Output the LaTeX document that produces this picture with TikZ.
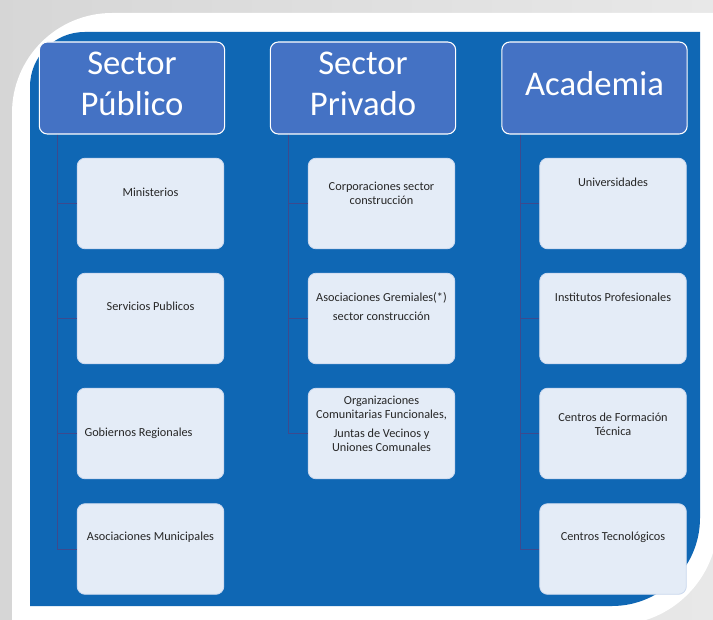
\documentclass[tikz,border=0pt]{standalone}
\usepackage{fontspec}
\setmainfont{Carlito}
\definecolor{fondo}{HTML}{0F67B4}
\definecolor{cabeza}{HTML}{4472C4}
\definecolor{caja}{HTML}{E4ECF7}
\definecolor{borde}{HTML}{CAD8EE}
\definecolor{linea}{HTML}{3D4A8E}
\definecolor{texto}{HTML}{262626}

\begin{document}
\begin{tikzpicture}[x=0.75pt, y=-0.75pt,
    cabecera/.style={draw=white, line width=0.8pt, fill=cabeza, rounded corners=6pt, minimum width=139pt, minimum height=69pt},
    titulo/.style={inner sep=0pt, text=white, align=center, font=\fontsize{26}{30.5}\selectfont},
    cajita/.style={draw=borde, line width=0.6pt, fill=caja, rounded corners=6pt, minimum width=110pt, minimum height=68pt},
    rotulo/.style={inner sep=0pt, text=texto, align=center, font=\fontsize{9.2}{10.5}\selectfont},
    rama/.style={draw=linea, line width=0.5pt}]
    \useasboundingbox (0,0) rectangle (713,620);
    \shade[left color=black!16, right color=black!9] (0,0) rectangle (713,620);
    \fill[white] (12,625) [rounded corners=75pt] -- (12,13) [sharp corners] -- (718,13) [rounded corners=78pt] -- (718,625) [sharp corners] -- cycle;
    \fill[fondo] (30,606) [rounded corners=41pt] -- (30,32) [sharp corners] -- (700,32) [rounded corners=66pt] -- (700,606) [sharp corners] -- cycle;

    \node[cabecera] (pub) at (132,88) {};
    \node[cabecera] (pri) at (363,88) {};
    \node[cabecera] (aca) at (594.5,88) {};

    \node[cajita] (pub1) at (150.5,203.5) {};
    \node[cajita] (pub2) at (150.5,318.5) {};
    \node[cajita] (pub3) at (150.5,433.5) {};
    \node[cajita] (pub4) at (150.5,549) {};
    \node[cajita] (pri1) at (381.5,203.5) {};
    \node[cajita] (pri2) at (381.5,318.5) {};
    \node[cajita] (pri3) at (381.5,433.5) {};
    \node[cajita] (aca1) at (613,203.5) {};
    \node[cajita] (aca2) at (613,318.5) {};
    \node[cajita] (aca3) at (613,433.5) {};
    \node[cajita] (aca4) at (613,549) {};

    \coordinate (ejepub) at ([xshift=14pt]pub.south west);
    \coordinate (ejepri) at ([xshift=14pt]pri.south west);
    \coordinate (ejeaca) at ([xshift=14pt]aca.south west);
    \draw[rama] (ejepub) |- (pub1.west) (ejepub) |- (pub2.west) (ejepub) |- (pub3.west) (ejepub) |- (pub4.west);
    \draw[rama] (ejepri) |- (pri1.west) (ejepri) |- (pri2.west) (ejepri) |- (pri3.west);
    \draw[rama] (ejeaca) |- (aca1.west) (ejeaca) |- (aca2.west) (ejeaca) |- (aca3.west) (ejeaca) |- (aca4.west);

    \node[titulo] (tpub) at ([yshift=3pt]pub.center) {Sector\\Público};
    \node[titulo] (tpri) at ([yshift=3pt]pri.center) {Sector\\Privado};
    \node[titulo] (taca) at ([yshift=3pt]aca.center) {Academia};

    \node[rotulo] (tpub1) at ([yshift=8.6pt]pub1.center) {Ministerios};
    \node[rotulo] (tpub2) at ([yshift=9.4pt]pub2.center) {Servicios Publicos};
    \node[rotulo] (tpub3) at ([xshift=-9pt]pub3.center) {Gobiernos Regionales};
    \node[rotulo] (tpub4) at ([yshift=9pt]pub4.center) {Asociaciones Municipales};
    \node[rotulo] (tpri1) at ([yshift=7.9pt]pri1.center) {Corporaciones sector\\construcción};
    \node[rotulo] (tpri2) at ([yshift=9pt]pri2.center) {Asociaciones Gremiales(*)\\[4pt]sector construcción};
    \node[rotulo] (tpri3) at ([yshift=7.1pt]pri3.center) {Organizaciones\\Comunitarias Funcionales,\\[4pt]Juntas de Vecinos y\\Uniones Comunales};
    \node[rotulo] (taca1) at ([yshift=16.1pt]aca1.center) {Universidades};
    \node[rotulo] (taca2) at ([yshift=16.1pt]aca2.center) {Institutos Profesionales};
    \node[rotulo] (taca3) at ([yshift=7.1pt]aca3.center) {Centros de Formación\\Técnica};
    \node[rotulo] (taca4) at ([yshift=9pt]aca4.center) {Centros Tecnológicos};
    \end{tikzpicture}
\end{document}
